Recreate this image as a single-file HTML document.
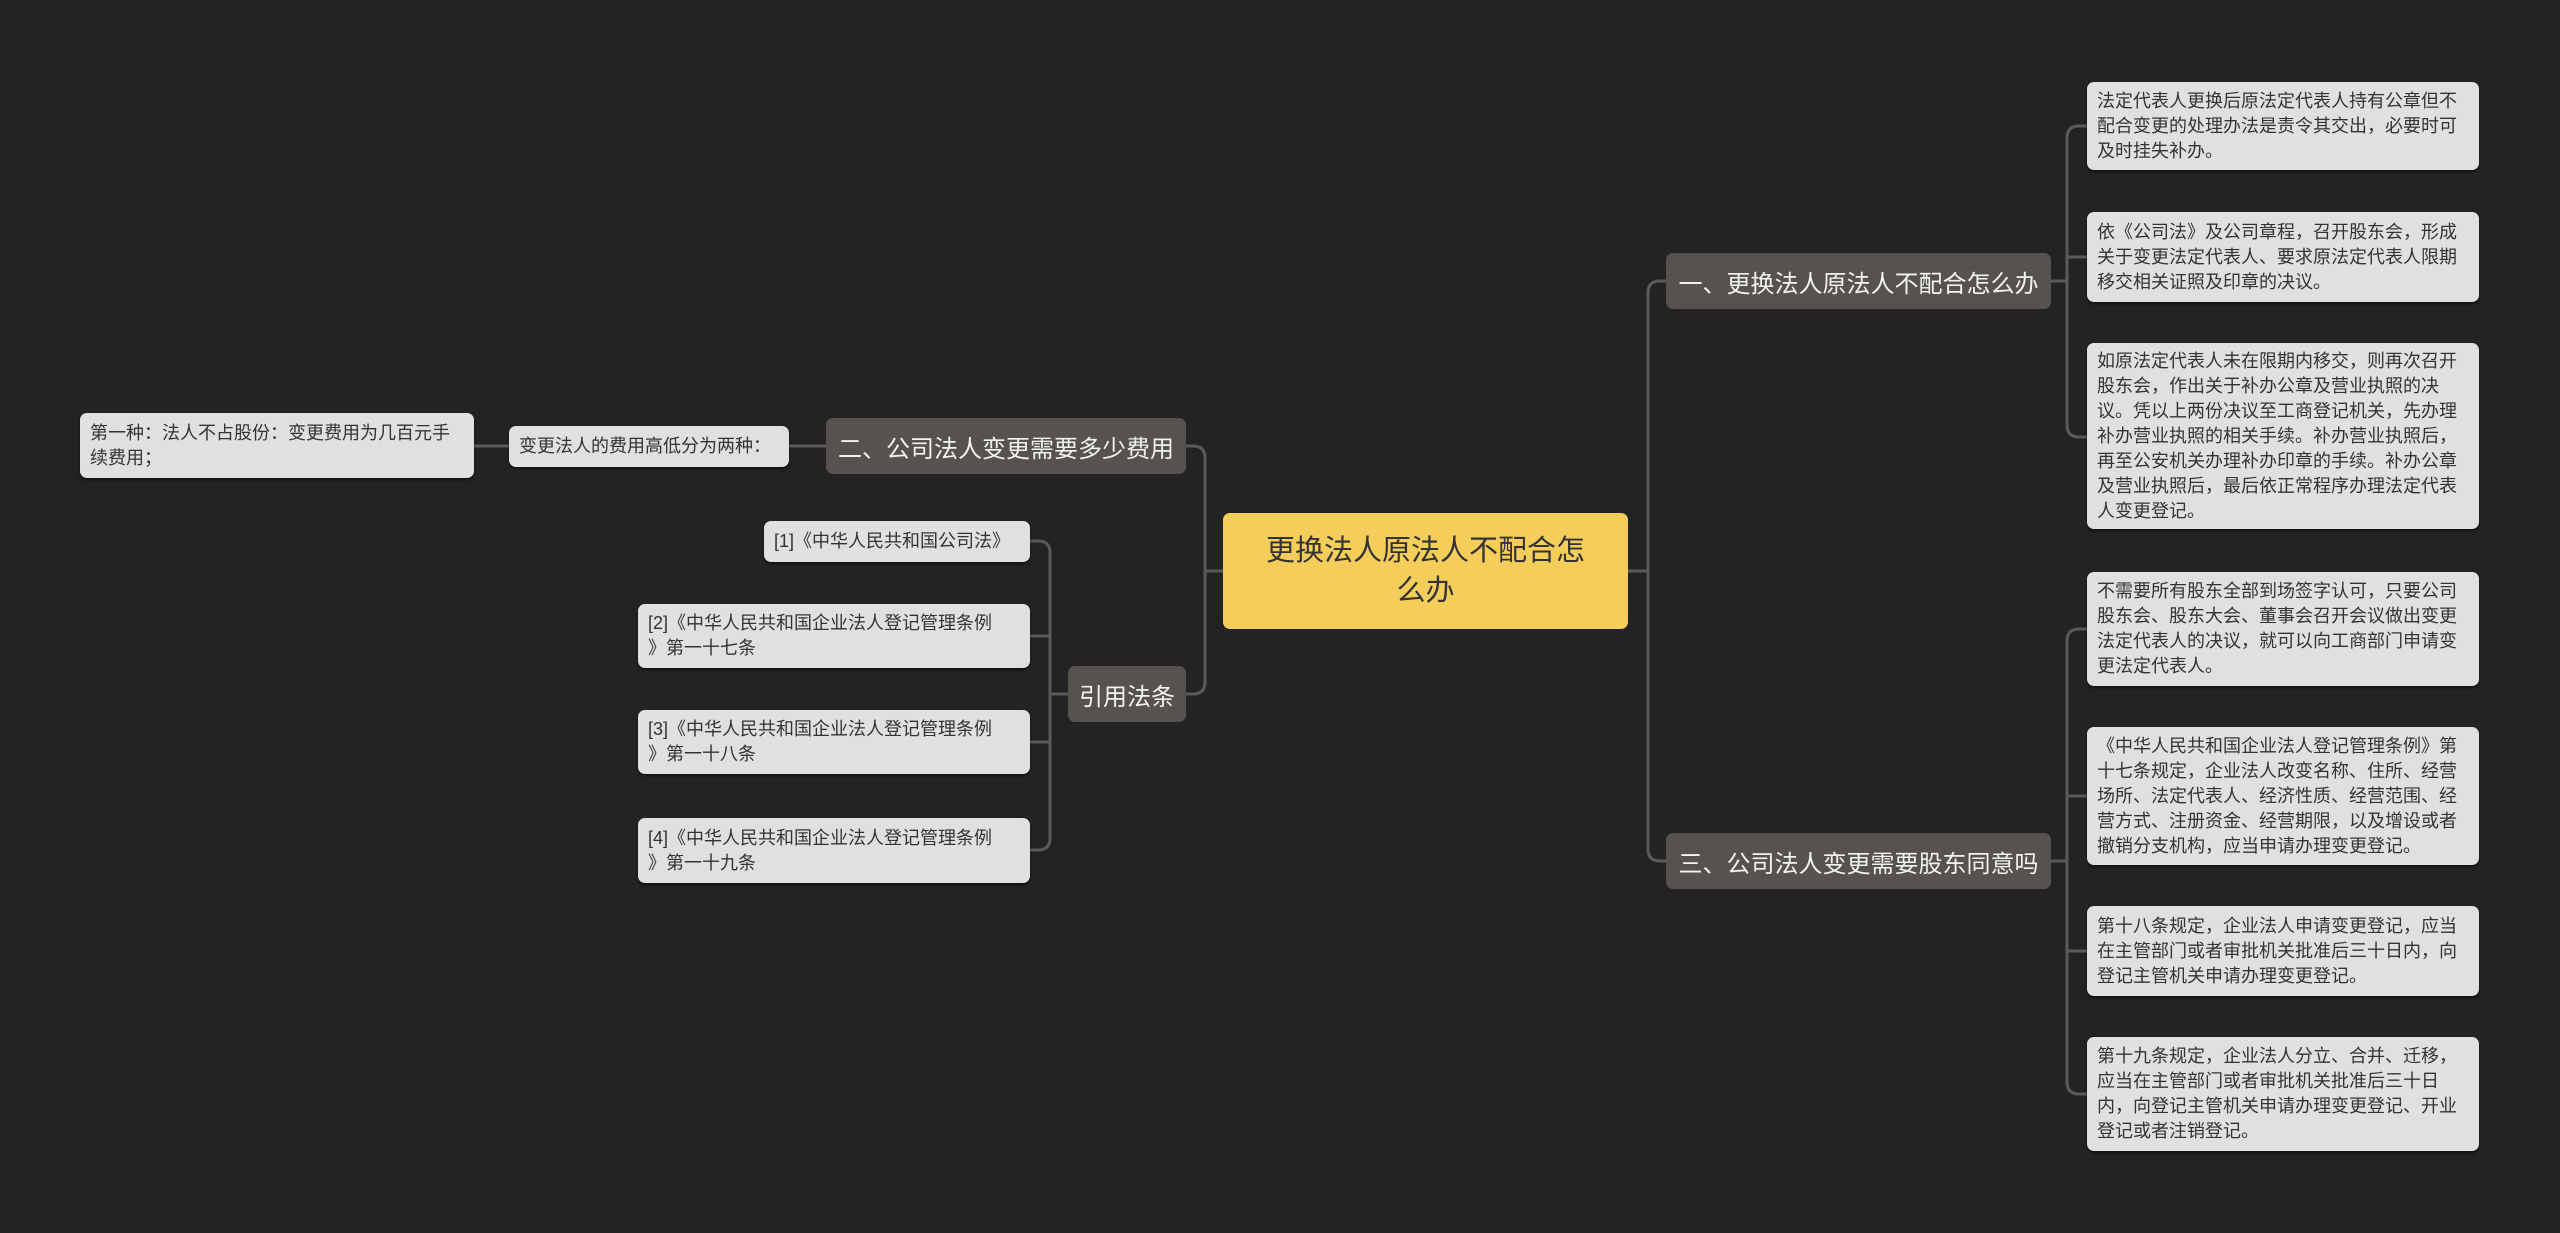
<!DOCTYPE html>
<html><head><meta charset="utf-8"><style>
*{margin:0;padding:0;box-sizing:border-box}
body{width:2560px;height:1233px;background:#232323;position:relative;overflow:hidden;font-family:"Liberation Sans","Noto Sans CJK SC",sans-serif}
.n{position:absolute;border-radius:7px;display:flex;align-items:center}
.leaf{background:#e0e0e0;color:#333;font-size:18px;line-height:25px;padding:0 10px;box-shadow:0 2px 2px #111}
.br{background:#56524e;color:#f2f2f2;font-size:24px;justify-content:center;white-space:nowrap}
.c{background:#f5cd5b;color:#333;font-size:29px;line-height:40px;text-align:center;justify-content:center;padding:0 20px}
svg{position:absolute;left:0;top:0}
</style></head><body>
<svg width="2560" height="1233" fill="none" stroke="#5a5a5a" stroke-width="3">
<path d="M1628 571 H1648 M1666 281 H1660 Q1648 281 1648 293 V849 Q1648 861 1660 861 H1666"/>
<path d="M2051 281 H2067 M2087 126 H2079 Q2067 126 2067 138 V425 Q2067 437 2079 437 H2087 M2067 257 H2087"/>
<path d="M2051 861 H2067 M2087 629 H2079 Q2067 629 2067 641 V1082 Q2067 1094 2079 1094 H2087 M2067 796 H2087 M2067 951 H2087"/>
<path d="M1223 571 H1205 M1186 446 H1193 Q1205 446 1205 458 V682 Q1205 694 1193 694 H1186"/>
<path d="M826 446 H789 M509 446 H474"/>
<path d="M1068 694 H1050 M1030 541 H1038 Q1050 541 1050 553 V838 Q1050 850 1038 850 H1030 M1050 636 H1030 M1050 742 H1030"/>
</svg>
<div class="n c" style="left:1223px;top:513px;width:405px;height:116px">更换法人原法人不配合怎<br>么办</div>
<div class="n br" style="left:1666px;top:253px;width:385px;height:56px">一、更换法人原法人不配合怎么办</div>
<div class="n br" style="left:1666px;top:833px;width:385px;height:56px">三、公司法人变更需要股东同意吗</div>
<div class="n br" style="left:826px;top:418px;width:360px;height:56px">二、公司法人变更需要多少费用</div>
<div class="n br" style="left:1068px;top:666px;width:118px;height:56px">引用法条</div>
<div class="n leaf" style="left:2087px;top:82px;width:392px;height:88px">法定代表人更换后原法定代表人持有公章但不配合变更的处理办法是责令其交出，必要时可及时挂失补办。</div>
<div class="n leaf" style="left:2087px;top:212px;width:392px;height:90px">依《公司法》及公司章程，召开股东会，形成关于变更法定代表人、要求原法定代表人限期移交相关证照及印章的决议。</div>
<div class="n leaf" style="left:2087px;top:343px;width:392px;height:186px">如原法定代表人未在限期内移交，则再次召开股东会，作出关于补办公章及营业执照的决议。凭以上两份决议至工商登记机关，先办理补办营业执照的相关手续。补办营业执照后，再至公安机关办理补办印章的手续。补办公章及营业执照后，最后依正常程序办理法定代表人变更登记。</div>
<div class="n leaf" style="left:2087px;top:572px;width:392px;height:114px">不需要所有股东全部到场签字认可，只要公司股东会、股东大会、董事会召开会议做出变更法定代表人的决议，就可以向工商部门申请变更法定代表人。</div>
<div class="n leaf" style="left:2087px;top:727px;width:392px;height:138px">《中华人民共和国企业法人登记管理条例》第十七条规定，企业法人改变名称、住所、经营场所、法定代表人、经济性质、经营范围、经营方式、注册资金、经营期限，以及增设或者撤销分支机构，应当申请办理变更登记。</div>
<div class="n leaf" style="left:2087px;top:906px;width:392px;height:90px">第十八条规定，企业法人申请变更登记，应当在主管部门或者审批机关批准后三十日内，向登记主管机关申请办理变更登记。</div>
<div class="n leaf" style="left:2087px;top:1037px;width:392px;height:114px">第十九条规定，企业法人分立、合并、迁移，应当在主管部门或者审批机关批准后三十日内，向登记主管机关申请办理变更登记、开业登记或者注销登记。</div>
<div class="n leaf" style="left:509px;top:426px;width:280px;height:41px;white-space:nowrap">变更法人的费用高低分为两种：</div>
<div class="n leaf" style="left:80px;top:413px;width:394px;height:65px">第一种：法人不占股份：变更费用为几百元手续费用；</div>
<div class="n leaf" style="left:764px;top:521px;width:266px;height:41px;white-space:nowrap">[1]《中华人民共和国公司法》</div>
<div class="n leaf" style="left:638px;top:604px;width:392px;height:64px">[2]《中华人民共和国企业法人登记管理条例<br>》第一十七条</div>
<div class="n leaf" style="left:638px;top:710px;width:392px;height:64px">[3]《中华人民共和国企业法人登记管理条例<br>》第一十八条</div>
<div class="n leaf" style="left:638px;top:818px;width:392px;height:65px">[4]《中华人民共和国企业法人登记管理条例<br>》第一十九条</div>
</body></html>
